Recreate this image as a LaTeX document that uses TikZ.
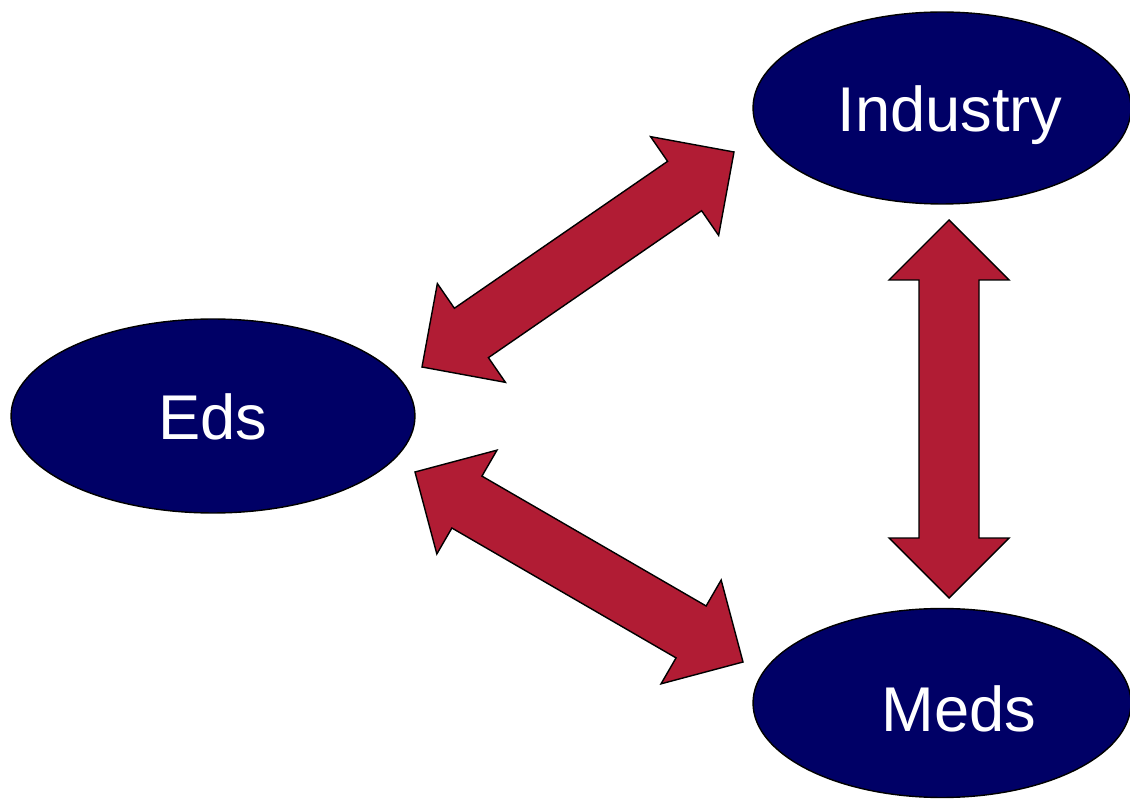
\documentclass[tikz,border=0pt]{standalone}
\usepackage{fontspec}
\setmainfont{Liberation Sans}
\usetikzlibrary{calc,shapes.geometric}
\definecolor{navyblob}{HTML}{000066}
\definecolor{linkred}{HTML}{B11C34}
\tikzset{
	blob/.style={ellipse, draw=black, line width=0.8pt, fill=navyblob, inner sep=0pt},
	blobtext/.style={text=white, inner sep=0pt, text height=0.96cm, text depth=0pt, font=\fontsize{36}{43}\selectfont},
	bigarrow/.style={draw=black, line width=0.8pt, fill=linkred, line join=miter}
}
\def\dblarrow(#1)(#2){%
	\path ($(#1)!1.2cm!(#2)$) coordinate (#1h) ($(#2)!1.2cm!(#1)$) coordinate (#2h);
	\draw[bigarrow] (#1) -- ($(#1h)!1.2cm!90:(#2)$) -- ($(#1h)!0.6cm!90:(#2)$)
		-- ($(#2h)!0.6cm!-90:(#1)$) -- ($(#2h)!1.2cm!-90:(#1)$) -- (#2)
		-- ($(#2h)!1.2cm!90:(#1)$) -- ($(#2h)!0.6cm!90:(#1)$)
		-- ($(#1h)!0.6cm!-90:(#2)$) -- ($(#1h)!1.2cm!-90:(#2)$) -- cycle;}

\begin{document}
\begin{tikzpicture}[x=0.02cm, y=-0.02cm]
		%%%%% START %%%%%
		\useasboundingbox (0, 0) rectangle (1130, 800);
		
		\node[blob, minimum width=7.56cm, minimum height=3.84cm,
			label={[blobtext, xshift=0.16cm]center:Industry}] (industry) at (942, 108) {};
		\node[blob, minimum width=8.08cm, minimum height=3.88cm,
			label={[blobtext]center:Eds}] (eds) at (213, 416) {};
		\node[blob, minimum width=7.56cm, minimum height=3.78cm,
			label={[blobtext, xshift=0.34cm, yshift=-0.1cm]center:Meds}] (meds) at (942, 703) {};
		
		% arrow ends, just off the ellipses
		\coordinate (edsup) at (422, 367);
		\coordinate (indleft) at (734, 152);
		\coordinate (edsdown) at (415, 472);
		\coordinate (medsleft) at (743, 662);
		\coordinate (indbelow) at (949, 220);
		\coordinate (medsabove) at (949, 598);
		
		\dblarrow(edsup)(indleft)
		\dblarrow(edsdown)(medsleft)
		\dblarrow(indbelow)(medsabove)
		
		%%%%% END %%%%%
	\end{tikzpicture}
\end{document}
